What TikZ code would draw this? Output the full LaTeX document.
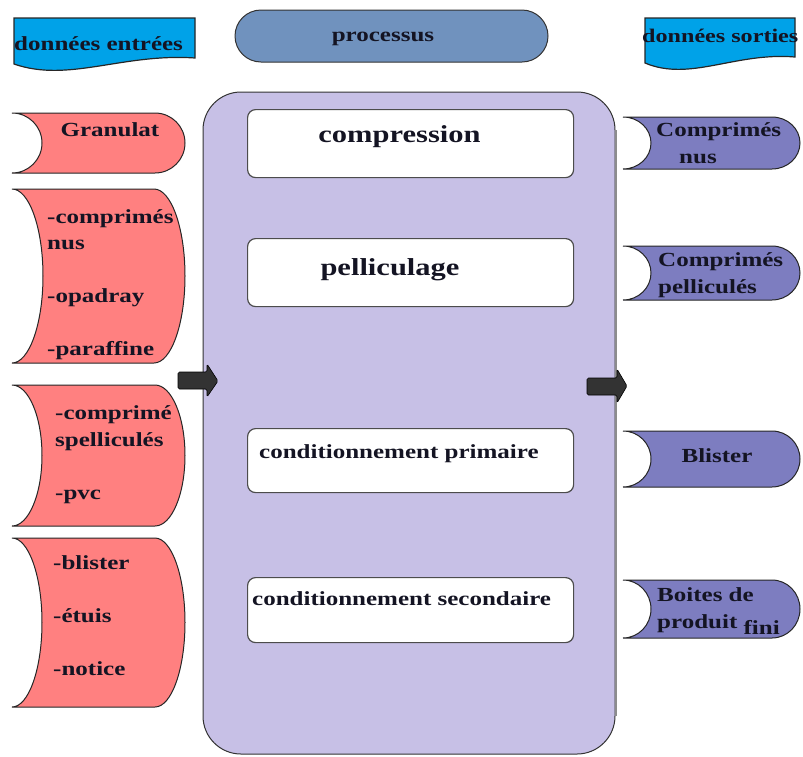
\documentclass[tikz,border=0pt]{standalone}
\usepackage{fontspec}
\setmainfont{Liberation Serif}[FakeStretch=1.25]
\definecolor{hdrblue}{RGB}{0,162,232}
\definecolor{procblue}{RGB}{112,146,190}
\definecolor{lav}{RGB}{199,192,230}
\definecolor{inred}{RGB}{255,128,128}
\definecolor{outpurple}{RGB}{125,125,192}
\definecolor{arrowgray}{RGB}{51,51,51}
\definecolor{txt}{RGB}{20,20,35}
\newcommand\storedshape[6]{%
 \pgfmathsetmacro\ssYm{(#3+#5)/2}%
 \pgfmathsetmacro\ssHh{(#5-#3)/2*0.552}%
 \pgfmathsetmacro\ssDd{#6*0.552}%
 \pgfmathsetmacro\ssXr{#4-#6}%
 \pgfmathsetmacro\ssXl{#2+#6}%
 \draw[#1] (#2,#3) -- (\ssXr,#3) .. controls ({\ssXr+\ssDd},#3) and (#4,{\ssYm-\ssHh}) .. (#4,\ssYm) .. controls (#4,{\ssYm+\ssHh}) and ({\ssXr+\ssDd},#5) .. (\ssXr,#5) -- (#2,#5) .. controls ({#2+\ssDd},#5) and (\ssXl,{\ssYm+\ssHh}) .. (\ssXl,\ssYm) .. controls (\ssXl,{\ssYm-\ssHh}) and ({#2+\ssDd},#3) .. cycle;}
\newcommand\docshape[5]{%
 \pgfmathsetmacro\dsW{#4-#2}%
 \draw[#1] (#2,#3) -- (#4,#3) -- (#4,{#5-6}) .. controls ({#4-0.4*\dsW},{#5-11}) and ({#2+0.3*\dsW},{#5+19}) .. (#2,#5) -- cycle;}
\tikzset{
 lbl/.style={font=\fontsize{20}{26.4}\selectfont\bfseries, text=txt, inner sep=0pt, align=left},
 biglbl/.style={font=\fontsize{24.4}{30}\selectfont\bfseries, text=txt, inner sep=0pt},
 inbox/.style={draw=black!70, line width=1.2pt, fill=white, rounded corners=8pt, inner sep=0pt},
 redshape/.style={draw=black!85, line width=1pt, fill=inred},
 purpshape/.style={draw=black!85, line width=1pt, fill=outpurple},
 hdrshape/.style={draw=black!85, line width=1.2pt, fill=hdrblue},
 blockarrow/.style={draw=black, fill=arrowgray, line width=0.6pt, rounded corners=1.5pt},
 mainbox/.style={draw=black!80, line width=1pt, fill=lav, rounded corners=38pt}
}
\begin{document}
\begin{tikzpicture}[x=1pt,y=-1pt]
\useasboundingbox (0,0) rectangle (803,756);
% headers
\docshape{hdrshape}{14}{18}{195}{64}
\node[lbl, anchor=base west] (hin) at (14,50) {données entrées};
\node[draw=black!80, line width=1pt, fill=procblue, rounded corners=26pt, minimum width=313pt, minimum height=52pt, inner sep=0pt] (proc) at (391.5,36) {};
\node[lbl, anchor=base] (proct) at (383,41) {processus};
\docshape{hdrshape}{645}{18}{795}{63}
\node[lbl, anchor=base west, font=\fontsize{19.3}{24}\selectfont\bfseries] (hout) at (642,42) {données sorties};
% main process box
\draw[mainbox] (203,92) rectangle (615,754);
\draw[black!45, line width=2pt] (615.5,130) -- (615.5,716);
\node[inbox, minimum width=326pt, minimum height=68pt, anchor=north west] (bcomp) at (247,109) {};
\node[biglbl, anchor=base] (tcomp) at (399.5,142) {compression};
\node[inbox, minimum width=326pt, minimum height=68pt, anchor=north west] (bpell) at (247,238) {};
\node[biglbl, anchor=base] (tpell) at (390,275) {pelliculage};
\node[inbox, minimum width=326pt, minimum height=64pt, anchor=north west] (bprim) at (247,428) {};
\node[lbl, anchor=base west] (tprim) at (259,458) {conditionnement primaire};
\node[inbox, minimum width=326pt, minimum height=65pt, anchor=north west] (bsec) at (247,577) {};
\node[lbl, anchor=base west] (tsec) at (252,605) {conditionnement secondaire};
% block arrows
\draw[blockarrow] (178,372) -- (207,372) -- (207,364) -- (218,381) -- (207,397) -- (207,389) -- (178,389) -- cycle;
\draw[blockarrow] (587,378) -- (617,378) -- (617,369) -- (627,386) -- (617,403) -- (617,395) -- (587,395) -- cycle;
% inputs (anchor = baseline of last line)
\storedshape{redshape}{12}{113}{185}{173}{30}
\node[lbl, anchor=base] (i1) at (110,136) {Granulat};
\storedshape{redshape}{12}{189}{185}{363}{31}
\node[lbl, anchor=base west] (i2) at (47,355) {-comprimés\\nus\\\mbox{}\\-opadray\\\mbox{}\\-paraffine};
\storedshape{redshape}{12}{385}{185}{526}{30}
\node[lbl, anchor=base west] (i3) at (55,499) {-comprimé\\spelliculés\\\mbox{}\\-pvc};
\storedshape{redshape}{12}{538}{185}{707}{30}
\node[lbl, anchor=base west] (i4) at (53,675) {-blister\\\mbox{}\\-étuis\\\mbox{}\\-notice};
% outputs
\storedshape{purpshape}{623}{117}{800}{169}{28}
\node[lbl, anchor=base west] (o1) at (656,163) {Comprimés\\\hspace{23pt}nus};
\storedshape{purpshape}{623}{246}{800}{300}{28}
\node[lbl, anchor=base west] (o2) at (658,293) {Comprimés\\pelliculés};
\storedshape{purpshape}{623}{431}{800}{487}{28}
\node[lbl, anchor=base] (o3) at (717,462) {Blister};
\storedshape{purpshape}{623}{580}{800}{638}{28}
\node[lbl, anchor=base west] (o4) at (657,628) {Boites de\\produit \raisebox{-6pt}{fini}};
\end{tikzpicture}
\end{document}
